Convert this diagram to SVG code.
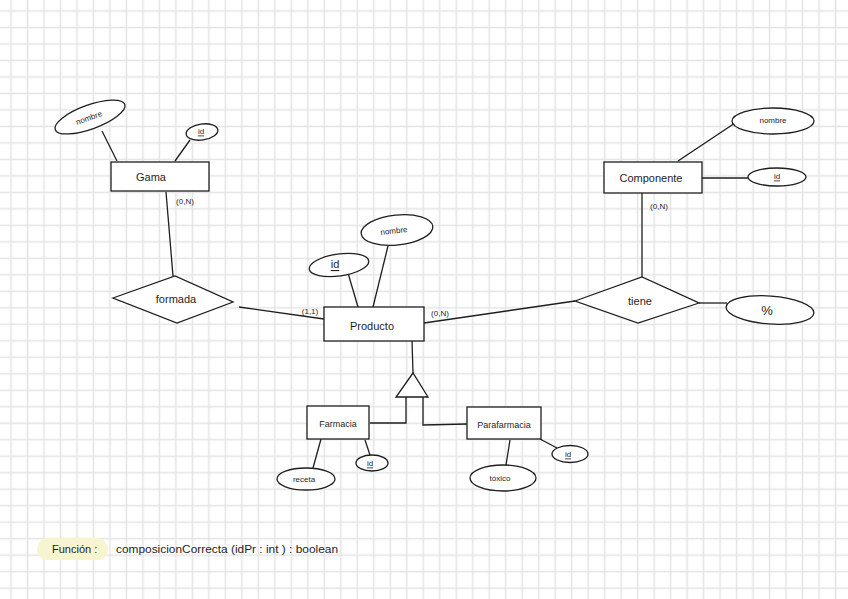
<svg xmlns="http://www.w3.org/2000/svg" width="848" height="599" viewBox="0 0 848 599">
<defs>
<pattern id="grid" x="2.755" y="2.755" width="16.49" height="16.49" patternUnits="userSpaceOnUse">
<path d="M8.245 0 V16.49 M0 8.245 H16.49" stroke="#e4e4e4" stroke-width="1.5" fill="none"/>
</pattern>
<style>
.sh{fill:#fff;stroke:#1e1e1e;stroke-width:1.3}
.ln{stroke:#1e1e1e;stroke-width:1.3;fill:none}
.t{font-family:"Liberation Sans","DejaVu Sans",sans-serif;font-size:11px;fill:#1e1e1e;text-anchor:middle;dominant-baseline:central}
.s{font-family:"Liberation Sans","DejaVu Sans",sans-serif;font-size:8px;fill:#1e1e1e;text-anchor:middle;dominant-baseline:central}
.u{text-decoration:underline}
</style>
</defs>
<rect width="848" height="599" fill="#fff"/>
<rect width="848" height="599" fill="url(#grid)"/>

<g id="connectors">
<line class="ln" x1="102" y1="131" x2="117" y2="161"/>
<line class="ln" x1="190" y1="140" x2="175" y2="161"/>
<line class="ln" x1="166" y1="192" x2="173" y2="276"/>
<line class="ln" x1="239" y1="307" x2="324" y2="319"/>
<line class="ln" x1="348" y1="273" x2="358" y2="307"/>
<line class="ln" x1="388" y1="246" x2="373" y2="307"/>
<line class="ln" x1="424" y1="323" x2="575" y2="301"/>
<line class="ln" x1="642" y1="193" x2="642" y2="277"/>
<line class="ln" x1="735" y1="123" x2="678" y2="161"/>
<line class="ln" x1="702" y1="178" x2="748" y2="178"/>
<line class="ln" x1="699" y1="303" x2="727" y2="303"/>
<line class="ln" x1="412" y1="341" x2="413" y2="373"/>
<polyline class="ln" points="406,397 406,423 370,423"/>
<polyline class="ln" points="423,397 423,425 467,424"/>
<line class="ln" x1="321" y1="439" x2="313" y2="468"/>
<line class="ln" x1="365" y1="440" x2="370" y2="455"/>
<line class="ln" x1="510" y1="440" x2="506" y2="465"/>
<line class="ln" x1="540" y1="439" x2="557" y2="448"/>
<text class="s" x="185" y="201">(0,N)</text>
<text class="s" x="310" y="311">(1,1)</text>
<text class="s" x="440" y="313">(0,N)</text>
<text class="s" x="659" y="206">(0,N)</text>
</g>

<g id="gama">
<rect class="sh" x="111" y="162" width="98" height="29"/>
<text class="t" x="151" y="177">Gama</text>
</g>
<g id="gama-nombre">
<ellipse class="sh" cx="90" cy="117" rx="37" ry="12" transform="rotate(-20 90 117)"/>
<text class="s" x="89" y="118" transform="rotate(-20 89 118)">nombre</text>
</g>
<g id="gama-id">
<ellipse class="sh" cx="202" cy="132" rx="16" ry="8" transform="rotate(-8 202 132)"/>
<text class="s u" x="201" y="131">id</text>
</g>

<g id="formada">
<polygon class="sh" points="113,298 175,276 233,302 177,323"/>
<text class="t" x="176" y="299">formada</text>
</g>

<g id="producto">
<rect class="sh" x="324" y="307" width="100" height="34"/>
<text class="t" x="372" y="326">Producto</text>
</g>
<g id="producto-id">
<ellipse class="sh" cx="339" cy="265" rx="30" ry="11" transform="rotate(-8 339 265)"/>
<text class="t u" x="335" y="264">id</text>
</g>
<g id="producto-nombre">
<ellipse class="sh" cx="397" cy="230" rx="36" ry="15" transform="rotate(-6 397 230)"/>
<text class="s" x="394" y="231" transform="rotate(-6 394 231)">nombre</text>
</g>

<g id="componente">
<rect class="sh" x="604" y="162" width="98" height="31"/>
<text class="t" x="651" y="178">Componente</text>
</g>
<g id="componente-nombre">
<ellipse class="sh" cx="773" cy="121" rx="41" ry="13"/>
<text class="s" x="773" y="120">nombre</text>
</g>
<g id="componente-id">
<ellipse class="sh" cx="777" cy="177" rx="29" ry="9"/>
<text class="s u" x="777" y="176">id</text>
</g>

<g id="tiene">
<polygon class="sh" points="575,301 642,277 699,303 638,323"/>
<text class="t" x="640" y="301">tiene</text>
</g>
<g id="porcentaje">
<ellipse class="sh" cx="770" cy="310" rx="44" ry="14" transform="rotate(4 770 310)"/>
<text class="t" x="767" y="310" style="font-size:13px">%</text>
</g>

<g id="isa">
<polygon class="sh" points="413,373 396,397 428,397"/>
</g>

<g id="farmacia">
<rect class="sh" x="307" y="406" width="62" height="33"/>
<text class="s" x="338" y="424" style="font-size:9px">Farmacia</text>
</g>
<g id="farmacia-receta">
<ellipse class="sh" cx="306" cy="479" rx="29" ry="11"/>
<text class="s" x="304" y="479">receta</text>
</g>
<g id="farmacia-id">
<ellipse class="sh" cx="372" cy="463" rx="16" ry="8"/>
<text class="s u" x="370" y="463">id</text>
</g>

<g id="parafarmacia">
<rect class="sh" x="467" y="407" width="74" height="32"/>
<text class="s" x="504" y="425" style="font-size:9px">Parafarmacia</text>
</g>
<g id="parafarmacia-toxico">
<ellipse class="sh" cx="503" cy="478" rx="33" ry="13"/>
<text class="s" x="500" y="478">tóxico</text>
</g>
<g id="parafarmacia-id">
<ellipse class="sh" cx="570" cy="454" rx="18" ry="8.5"/>
<text class="s u" x="568" y="454">id</text>
</g>

<g id="funcion">
<rect x="37" y="538" width="71" height="22" rx="11" fill="#f7f5cf"/>
<text x="52" y="553" style="font-family:'Liberation Sans',sans-serif;font-size:11px;fill:#1e1e1e">Función :</text>
<text x="116" y="553" textLength="222" lengthAdjust="spacingAndGlyphs" style="font-family:'Liberation Sans',sans-serif;font-size:10px;fill:#1e1e1e">composicionCorrecta (idPr : int ) : boolean</text>
</g>
</svg>
